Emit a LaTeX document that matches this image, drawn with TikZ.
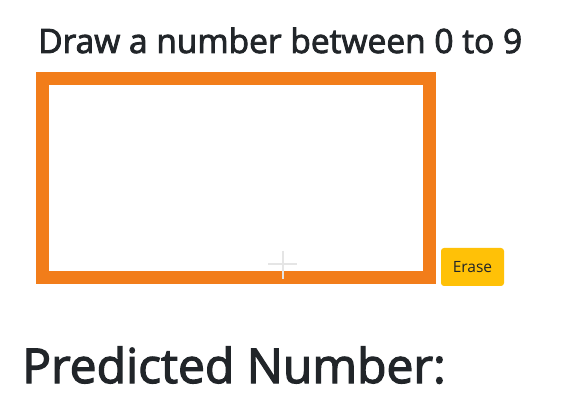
\documentclass[tikz,border=0pt]{standalone}
\usepackage{fontspec}
\setmainfont{Open Sans}
\newfontfamily\headfont{Open Sans}[FakeBold=2.5]
\usepackage{tikz}
\usetikzlibrary{positioning}
\definecolor{inkdark}{HTML}{212529}
\definecolor{padorange}{RGB}{242,125,26}
\definecolor{btnyellow}{HTML}{FFC107}
\begin{document}
\begin{tikzpicture}[x=1pt, y=-1pt]
            \useasboundingbox[fill=white] (0,0) rectangle (562,411);
            \node[anchor=base west, inner sep=0, text=inkdark, font=\headfont\fontsize{33.5}{38}\selectfont] at (38, 53)   (title) {Draw a number between 0 to 9};
            \node[draw=padorange, line width=13pt, fill=white, minimum width=387pt, minimum height=199pt, inner sep=0, outer sep=0] at (236, 178)   (pad) {};
            \node[fill=btnyellow, rounded corners=3pt, minimum width=63pt, minimum height=38pt, inner sep=0, text=inkdark, font=\fontsize{15.5}{18}\selectfont] at (472.5, 267)   (erase) {Erase};
            \node[anchor=base west, inner sep=0, text=inkdark, font=\headfont\fontsize{48}{56}\selectfont] at (22, 383)   (result) {Predicted Number:};

            \draw [line width=1.5pt, black!10] (283, 251) -- (283, 279);
            \draw [line width=1.5pt, black!10] (268, 264) -- (297, 264);
        \end{tikzpicture}
\end{document}
